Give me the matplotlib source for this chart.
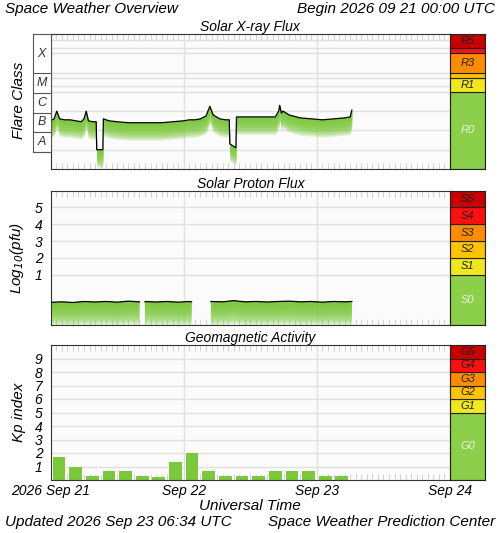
import matplotlib.pyplot as plt
import numpy as np
from matplotlib.ticker import MultipleLocator

plt.rcParams["font.family"] = ["Liberation Sans", "DejaVu Sans"]
plt.rcParams["font.style"] = "italic"

# hours since 2026-09-21 00:00 UTC
xray_t = [0, 0.6, 1.1, 1.6, 2.5, 3.5, 4.5, 5.5, 6.0, 6.4, 6.8, 7.5, 8.2, 8.3, 9.4, 9.5, 10.5,
          12, 14, 16, 18, 20, 22, 24, 25, 26, 27, 28, 28.7, 29.3, 30.5, 31.5, 32.2, 32.3, 33.4,
          33.5, 35, 37, 39, 40.5, 41.1, 41.3, 41.6, 41.9, 43, 45, 47, 49, 51, 53, 54.0, 54.3]
xray_log = [-6.5, -6.4, -6.0, -6.4, -6.45, -6.45, -6.5, -6.55, -6.4, -6.0, -6.5, -6.55, -6.55, -8.0, -8.0,
            -6.4, -6.5, -6.55, -6.6, -6.6, -6.6, -6.6, -6.55, -6.5, -6.45, -6.45, -6.4, -6.25, -5.75, -6.2,
            -6.4, -6.45, -6.45, -7.7, -7.9, -6.3, -6.3, -6.3, -6.3, -6.3, -6.0, -5.7, -6.1, -6.0, -6.2,
            -6.35, -6.4, -6.45, -6.4, -6.35, -6.3, -5.95]

proton_t = [0, 2, 4, 6, 8, 10, 12, 14, 16, 16.1, 16.8, 16.9, 17.0, 17.1, 19, 21, 23, 25, 25.4,
            25.5, 28.8, 28.9, 31, 33, 35, 37, 39, 41, 43, 45, 47, 49, 51, 53, 54.3]
proton_log = [-0.65, -0.62, -0.66, -0.6, -0.63, -0.6, -0.64, -0.58, -0.62, np.nan, -0.6, np.nan, -0.62, -0.6,
              -0.63, -0.6, -0.64, -0.6, -0.62, np.nan, np.nan, -0.6, -0.62, -0.55, -0.62, -0.6, -0.63,
              -0.6, -0.58, -0.62, -0.6, -0.64, -0.6, -0.62, -0.6]

kp_t = [1.5 + 3 * i for i in range(18)]
kp = [1.67, 1.0, 0.33, 0.67, 0.67, 0.33, 0.2, 1.33, 2.0, 0.67, 0.33, 0.33, 0.33, 0.67, 0.67, 0.67, 0.33, 0.33]

day_ticks = [0, 24, 48, 72]
day_labels = ["2026 Sep 21", "Sep 22", "Sep 23", "Sep 24"]

GREEN = "#7cc83c"
SCALE_COLORS = ["#8ccf4a", "#f0e81e", "#ffc400", "#ff8c00", "#ff1010", "#c80000"]

W, H = 500, 533
fig = plt.figure(figsize=(W / 100, H / 100), dpi=100)


def ax_px(x0, y0, x1, y1):
    return fig.add_axes([x0 / W, 1 - y1 / H, (x1 - x0) / W, (y1 - y0) / H])


def style_main(ax, ylo, yhi, grid_y):
    ax.set_xlim(0, 72)
    ax.set_ylim(ylo, yhi)
    ax.set_facecolor("#fbfbfb")
    for x in day_ticks[1:3]:
        ax.axvline(x, color="#e0e0e0", lw=1, zorder=0)
    for y in grid_y:
        ax.axhline(y, color="#e0e0e0", lw=1, zorder=0)
    ax.xaxis.set_minor_locator(MultipleLocator(1))
    ax.tick_params(axis="x", which="minor", direction="in", top=True, bottom=True,
                   length=4, color="#cccccc")
    ax.tick_params(axis="x", which="major", length=0)
    ax.set_xticks(day_ticks)
    ax.set_xticklabels([])
    for s in ax.spines.values():
        s.set_color("#333333")


def gradient_fill(ax, t, y, depth, base=None):
    # stacked translucent bands: dense near the line, fading downwards
    t = np.asarray(t, float)
    y = np.asarray(y, float)
    n = 14
    for k in range(n):
        bot = y - depth * (k + 1) / n
        if base is not None:
            bot = np.maximum(bot, base)
        ax.fill_between(t, bot, y, color=GREEN, alpha=0.2, lw=0, zorder=2)
    ax.plot(t, y, color="black", lw=0.9, zorder=3)


def scale_bar(x0, y0, x1, y1, bounds, labels):
    sa = ax_px(x0, y0, x1, y1)
    sa.set_xlim(0, 1)
    sa.set_ylim(bounds[0], bounds[-1])
    for i, lab in enumerate(labels):
        lo, hi = bounds[i], bounds[i + 1]
        sa.axhspan(lo, hi, color=SCALE_COLORS[i], ec="#222222", lw=0.8)
        if lab:
            c = "#e8f5dc" if i == 0 else "#222222"
            sa.text(0.5, (lo + hi) / 2, lab, ha="center", va="center", fontsize=8, color=c)
    sa.set_xticks([])
    sa.set_yticks([])
    for s in sa.spines.values():
        s.set_color("#222222")


# ---- Solar X-ray flux
ax1 = ax_px(50.7, 34, 450, 169)
style_main(ax1, -9, -2, [-8, -7, -6, -5, -4, -3, -2.3, -4.3, -2.7, -4.7])
gradient_fill(ax1, xray_t, xray_log, 0.9)
ax1.set_yticks([])
ax1.set_title("Solar X-ray Flux", fontsize=10, pad=2)
scale_bar(450, 34, 485, 169, [-9, -5, -4.3, -4, -3, -2.7, -2], ["R0", "R1", "", "R3", "", "R5"])

cls = ax_px(33, 34, 50.7, 151.8)
cls.set_xlim(0, 1)
cls.set_ylim(-8, -2)
for lo, hi, lab in [(-8, -7, "A"), (-7, -6, "B"), (-6, -5, "C"), (-5, -4, "M"), (-4, -2, "X")]:
    cls.axhline(lo, color="#555555", lw=0.8)
    cls.text(0.5, (lo + hi) / 2, lab, ha="center", va="center", fontsize=9, color="#333333")
cls.set_xticks([])
cls.set_yticks([])
for s in cls.spines.values():
    s.set_color("#555555")
fig.text(19 / W, 1 - 100 / H, "Flare Class", rotation=90, ha="center", va="center", fontsize=11)

# ---- Solar proton flux
ax2 = ax_px(50.7, 190.7, 450, 325)
style_main(ax2, -2, 6, [1, 2, 3, 4, 5])
gradient_fill(ax2, proton_t, proton_log, 1.4, base=-2)
ax2.set_yticks([1, 2, 3, 4, 5])
ax2.tick_params(axis="y", length=0, labelsize=10, pad=6)
ax2.set_ylabel(r"Log$_{10}$(pfu)", fontsize=11, labelpad=6)
ax2.set_title("Solar Proton Flux", fontsize=10, pad=2)
scale_bar(450, 190.7, 485, 325, [-2, 1, 2, 3, 4, 5, 6], ["S0", "S1", "S2", "S3", "S4", "S5"])

# ---- Geomagnetic activity
ax3 = ax_px(50.7, 345, 450, 480)
style_main(ax3, 0, 10, range(1, 10))
ax3.bar(kp_t, kp, width=2.3, color=GREEN, zorder=2)
ax3.set_yticks(range(1, 10))
ax3.tick_params(axis="y", length=0, labelsize=10, pad=6)
ax3.set_ylabel("Kp index", fontsize=11, labelpad=6)
ax3.set_title("Geomagnetic Activity", fontsize=10, pad=2)
ax3.set_xticklabels(day_labels, fontsize=10)
ax3.tick_params(axis="x", which="major", pad=3)
scale_bar(450, 345, 485, 480, [0, 5, 6, 7, 8, 9, 10], ["G0", "G1", "G2", "G3", "G4", "G5"])

fig.text(0.5, 1 - 506 / H, "Universal Time", ha="center", va="center", fontsize=11)
fig.text(5 / W, 1 - 9 / H, "Space Weather Overview", ha="left", va="center", fontsize=11)
fig.text(495 / W, 1 - 9 / H, "Begin 2026 09 21 00:00 UTC", ha="right", va="center", fontsize=11)
fig.text(5 / W, 1 - 522 / H, "Updated 2026 Sep 23 06:34 UTC", ha="left", va="center", fontsize=11)
fig.text(495 / W, 1 - 522 / H, "Space Weather Prediction Center", ha="right", va="center", fontsize=11)

fig.savefig("out.png", dpi=100)
